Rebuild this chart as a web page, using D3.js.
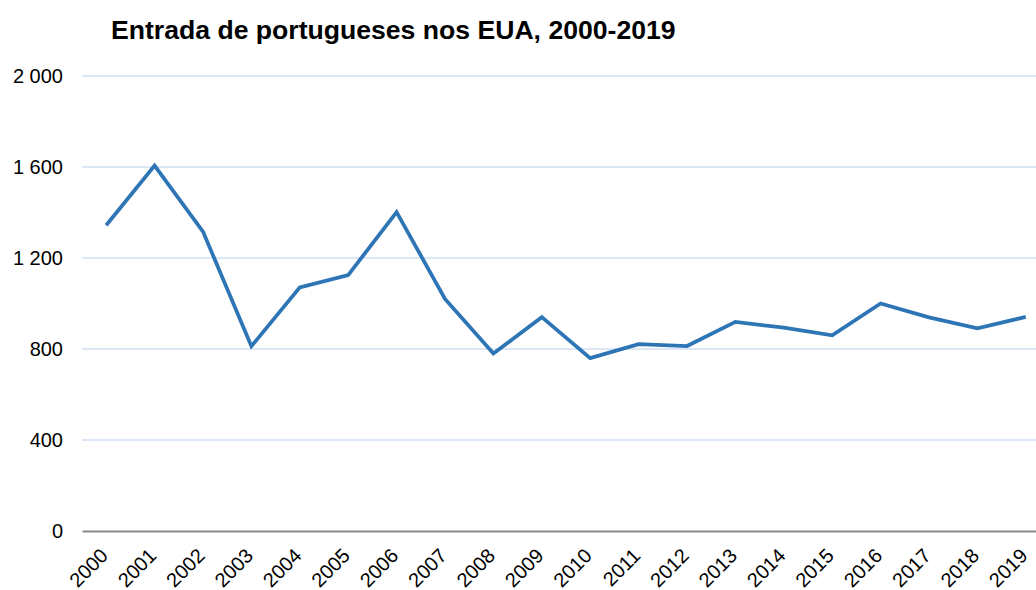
<!DOCTYPE html>
<html>
<head>
<meta charset="utf-8">
<script src="https://cdn.jsdelivr.net/npm/d3@7"></script>
<style>
  body { margin: 0; background: #fff; }
  svg { display: block; font-family: "Liberation Sans", Arial, sans-serif; }
</style>
</head>
<body>
<script>
var w = 1036;
var h = 590;

// dados
var years = ['2000', '2001', '2002', '2003', '2004', '2005', '2006', '2007', '2008', '2009',
  '2010', '2011', '2012', '2013', '2014', '2015', '2016', '2017', '2018', '2019'];
var entradas = [1344, 1606, 1316, 812, 1071, 1125, 1402, 1020, 780, 940,
  760, 821, 813, 919, 894, 860, 1000, 939, 891, 941];
var yTicks = [0, 400, 800, 1200, 1600, 2000];
var title = 'Entrada de portugueses nos EUA, 2000-2019';

var margin = { top: 76, left: 82, bottom: 59 };
var plotRight = 1050; // o gráfico original é cortado à direita

var svg = d3.select('body').append('svg').attr('width', w).attr('height', h);

var x = d3.scaleBand()
  .domain(years)
  .range([margin.left, plotRight])
  .padding(0);

var y = d3.scaleLinear()
  .domain([0, 2000])
  .range([h - margin.bottom, margin.top]);

var fmt = function (d) {
  return d3.format(',')(d).replace(/,/g, ' ');
};

// grelha
svg.append('g')
  .selectAll('line')
  .data(yTicks.filter(function (d) { return d > 0; }))
  .enter()
  .append('line')
  .attr('x1', margin.left)
  .attr('x2', plotRight)
  .attr('y1', function (d) { return y(d); })
  .attr('y2', function (d) { return y(d); })
  .style('stroke', '#dce8f5')
  .style('stroke-width', 2);

// eixo y (só rótulos)
var yAxis = svg.append('g')
  .attr('transform', 'translate(' + margin.left + ',0)')
  .call(d3.axisLeft(y).tickValues(yTicks).tickFormat(fmt).tickSize(0).tickPadding(19));
yAxis.select('.domain').remove();
yAxis.selectAll('text')
  .style('font-size', '20px')
  .style('font-family', '"Liberation Sans", Arial, sans-serif')
  .attr('fill', '#000');

// eixo x
var xAxis = svg.append('g')
  .attr('transform', 'translate(0,' + y(0) + ')')
  .call(d3.axisBottom(x).tickSize(0).tickPadding(0));
xAxis.select('.domain')
  .style('stroke', '#8c8c8c')
  .style('stroke-width', 2);
xAxis.selectAll('text')
  .style('font-size', '20px')
  .style('font-family', '"Liberation Sans", Arial, sans-serif')
  .attr('fill', '#000')
  .attr('text-anchor', 'end')
  .attr('dy', 0)
  .attr('transform', 'translate(3,26) rotate(-45)');

// linha
var line = d3.line()
  .x(function (d, i) { return x(years[i]) + x.bandwidth() / 2; })
  .y(function (d) { return y(d); });

svg.append('path')
  .datum(entradas)
  .attr('d', line)
  .style('fill', 'none')
  .style('stroke', '#2e75b6')
  .style('stroke-width', 3.75)
  .style('stroke-linejoin', 'miter');

// título
svg.append('text')
  .text(title)
  .attr('x', 111)
  .attr('y', 39)
  .style('font-size', '26.6px')
  .style('font-weight', 'bold')
  .attr('fill', '#000');
</script>
</body>
</html>
